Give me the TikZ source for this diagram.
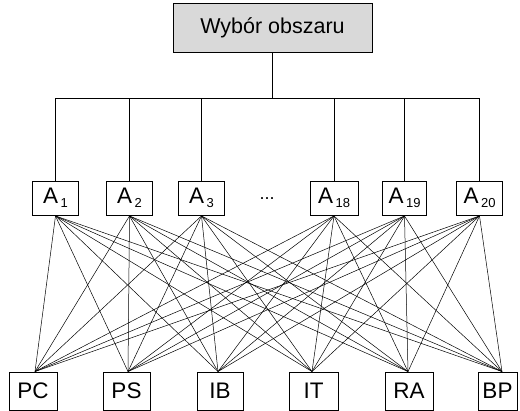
\documentclass[tikz,border=0pt]{standalone}
\usepackage{fontspec}
\setmainfont{Liberation Sans}
\begin{document}
\begin{tikzpicture}[x=1pt,y=-1pt,
  box/.style={draw=black,line width=0.9pt,inner sep=0pt,fill=white},
  topbox/.style={box,fill=gray!30,minimum width=199pt,minimum height=49pt,font=\fontsize{21.5}{24}\selectfont},
  abox/.style={box,minimum width=46pt,minimum height=34pt,font=\fontsize{22.5}{24}\selectfont},
  bbox/.style={box,minimum height=38pt,font=\fontsize{22.5}{24}\selectfont},
  wire/.style={draw=black,line width=0.55pt},
  link/.style={draw=black,line width=0.5pt}]
\newcommand{\subA}[1]{A\kern2.5pt\raisebox{-3.5pt}{\fontsize{13}{13}\selectfont #1}}
\fill[white] (0,0) rectangle (520,411);
\useasboundingbox (0,0) rectangle (520,411);

\node[topbox] (top) at (272.5,27.5) {Wybór obszaru};

\node[abox] (A1)  at (55.5,198)  {\subA{1}};
\node[abox] (A2)  at (129.5,198) {\subA{2}};
\node[abox] (A3)  at (201.5,198) {\subA{3}};
\node[abox,minimum width=48pt] (A18) at (334,198)   {\subA{18}};
\node[abox,minimum width=44pt] (A19) at (404.5,198) {\subA{19}};
\node[abox] (A20) at (479.5,198) {\subA{20}};
\node[font=\fontsize{18}{20}\selectfont,inner sep=0pt] (dots) at (267,199) {...};

\node[bbox,minimum width=48pt] (PC) at (33,391)    {PC};
\node[bbox,minimum width=47pt] (PS) at (126.5,391) {PS};
\node[bbox,minimum width=46pt] (IB) at (220,391)   {IB};
\node[bbox,minimum width=49pt] (IT) at (313.5,391) {IT};
\node[bbox,minimum width=48pt] (RA) at (409,391)   {RA};
\node[bbox,minimum width=39pt] (BP) at (497.5,391) {BP};

\coordinate (bus) at (270,98);
\draw[wire] (top.south) -- (top.south |- bus);
\draw[wire] (A1.north) -- (A1.north |- bus) -- (A20.north |- bus) -- (A20.north);
\foreach \a in {A2,A3,A18,A19} \draw[wire] (\a.north) -- (\a.north |- bus);

\coordinate (tPC) at ([xshift=2pt]PC.north);
\coordinate (tPS) at ([xshift=1.5pt]PS.north);
\coordinate (tIB) at ([xshift=-2pt]IB.north);
\coordinate (tIT) at ([xshift=-1.5pt]IT.north);
\coordinate (tRA) at ([xshift=-1pt]RA.north);
\coordinate (tBP) at ([xshift=4.5pt]BP.north);
\foreach \a in {A1,A2,A3,A18,A19,A20}
  \foreach \b in {tPC,tPS,tIB,tIT,tRA,tBP}
    \draw[link] ([yshift=-0.5pt]\a.south) -- (\b);
\end{tikzpicture}
\end{document}
